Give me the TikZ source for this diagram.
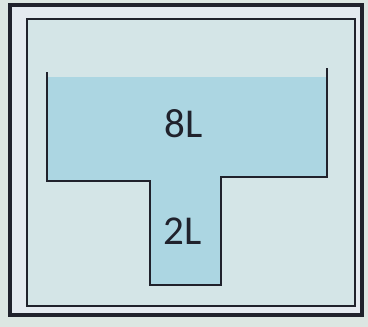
\documentclass[tikz,border=0pt]{standalone}
\usepackage{fontspec}
\setmainfont{Carlito}
\definecolor{paper}{RGB}{220,230,226}
\definecolor{gap}{RGB}{228,234,240}
\definecolor{inside}{RGB}{212,229,231}
\definecolor{water}{RGB}{172,214,226}
\definecolor{ink}{RGB}{32,34,44}
\tikzset{
  frameouter/.style={draw=ink, line width=4.5pt},
  frameinner/.style={draw=ink, line width=2.6pt},
  wall/.style={draw=ink, line width=2.8pt, line join=miter},
  vol/.style={font=\fontsize{41}{41}\selectfont, text=ink, inner sep=0pt},
}
\begin{document}
\begin{tikzpicture}[x=1pt,y=-1pt]
\useasboundingbox (0,0) rectangle (368,327);
\fill[paper] (0,0) rectangle (368,327);
\filldraw[fill=gap, frameouter] (10,5) rectangle (362,315);
\filldraw[fill=inside, frameinner] (27,19) rectangle (355,306);
% water
\fill[water] (47,77) -- (47,181) -- (150,181) -- (150,285) -- (221,285) -- (221,177) -- (327,177) -- (327,77) -- cycle;
% vessel
\draw[wall] (47,72) -- (47,181) -- (150,181) -- (150,285) -- (221,285) -- (221,177) -- (327,177) -- (327,68);
\node[vol] (big) at (184,124) {8L};
\node[vol] (small) at (183,231) {2L};
\end{tikzpicture}
\end{document}
